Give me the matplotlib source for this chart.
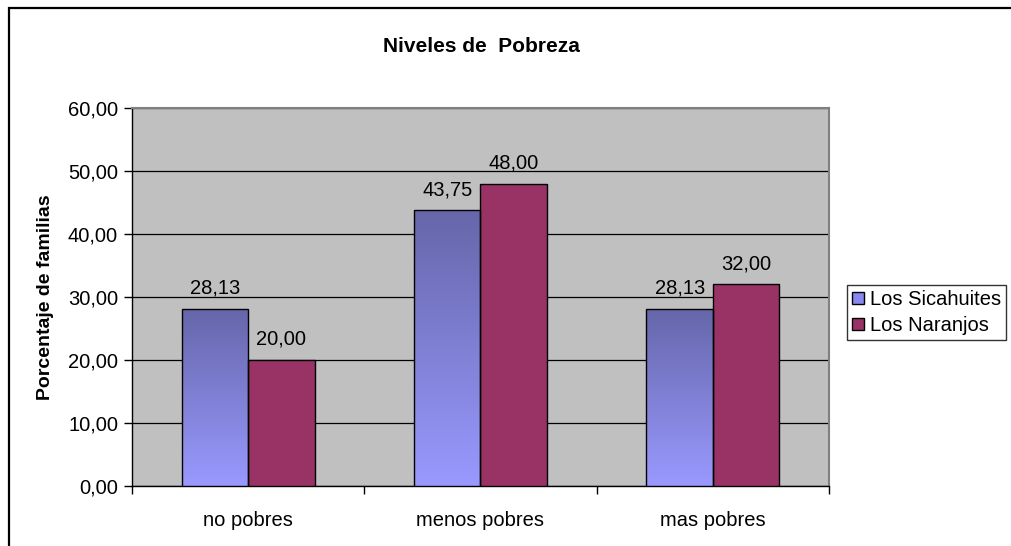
import numpy as np
import matplotlib
matplotlib.use("Agg")
import matplotlib.pyplot as plt
from matplotlib.patches import Rectangle, Patch
from matplotlib.colors import LinearSegmentedColormap

plt.rcParams['font.family'] = ['Liberation Sans', 'DejaVu Sans']

categories = ["no pobres", "menos pobres", "mas pobres"]
series_names = ["Los Sicahuites", "Los Naranjos"]
sicahuites = [28.13, 43.75, 28.13]
naranjos = [20.00, 48.00, 32.00]
y_ticks = [0, 10, 20, 30, 40, 50, 60]

W, H = 1012, 546
FS = 14.5
fig = plt.figure(figsize=(W / 100, H / 100), dpi=100)
fig.patch.set_facecolor("white")

# outer chart border (cropped at right / bottom like the original)
fig.patches.append(Rectangle((9 / W, -0.2), 1.2, 1.2 - 8 / H,
                             transform=fig.transFigure, fill=False,
                             edgecolor="black", linewidth=1.6))

ax = fig.add_axes([132 / W, 60 / H, 697 / W, 378 / H])
ax.set_facecolor("#C0C0C0")

x = np.arange(len(categories))
bw = 1 / 3.5

# gradient for the first series
blue_cmap = LinearSegmentedColormap.from_list("blu", ["#9999FF", "#6666AA"])
grad = np.linspace(0, 1, 256).reshape(-1, 1)

bars1 = ax.bar(x - bw / 2, sicahuites, bw, color="#8080DD", edgecolor="black",
               linewidth=1.0, zorder=3, label=series_names[0])
for b in bars1:
    bx, by = b.get_x(), b.get_y()
    im = ax.imshow(grad, cmap=blue_cmap, origin="lower", aspect="auto",
                   extent=[bx, bx + b.get_width(), by, by + b.get_height()],
                   zorder=3)
    im.set_clip_path(b)
    b.set_facecolor("none")
    b.set_zorder(4)

bars2 = ax.bar(x + bw / 2, naranjos, bw, color="#993366", edgecolor="black",
               linewidth=1.0, zorder=3, label=series_names[1])

for b, v in zip(list(bars1) + list(bars2), sicahuites + naranjos):
    ax.annotate(f"{v:.2f}".replace(".", ","),
                (b.get_x() + b.get_width() / 2, v),
                xytext=(0, 8), textcoords="offset points",
                ha="center", va="bottom", fontsize=FS)

ax.set_xlim(-0.5, len(categories) - 0.5)
ax.set_ylim(0, 60)
ax.set_yticks(y_ticks)
ax.set_yticklabels([f"{t:.2f}".replace(".", ",") for t in y_ticks], fontsize=FS)
ax.yaxis.grid(True, color="black", linewidth=0.9, zorder=1)
ax.set_axisbelow(True)

ax.set_xticks(x)
ax.set_xticklabels(categories, fontsize=FS)
ax.set_xticks(np.arange(-0.5, len(categories)), minor=True)
ax.tick_params(axis="x", which="major", length=0, pad=18)
ax.tick_params(axis="x", which="minor", length=6, width=1, direction="out")
ax.tick_params(axis="y", length=6, width=1, direction="out", pad=4)

for side in ["top", "right"]:
    ax.spines[side].set_color("#808080")
    ax.spines[side].set_linewidth(1.5)
for side in ["left", "bottom"]:
    ax.spines[side].set_color("black")
    ax.spines[side].set_linewidth(1.0)

ax.set_ylabel("Porcentaje de familias", fontsize=14, fontweight="bold", labelpad=10)
fig.text(481 / W, 1 - 46 / H, "Niveles de  Pobreza", ha="center", va="center",
         fontsize=15, fontweight="bold")

handles = [Patch(facecolor="#8888EE", edgecolor="black"),
           Patch(facecolor="#993366", edgecolor="black")]
leg = fig.legend(handles, series_names, loc="upper left",
                 bbox_to_anchor=(847 / W, 1 - 285 / H), fontsize=FS,
                 frameon=True, fancybox=False, borderpad=0.25,
                 handlelength=0.6, handleheight=0.6, handletextpad=0.3,
                 labelspacing=0.35, borderaxespad=0)
leg.get_frame().set_edgecolor("black")
leg.get_frame().set_linewidth(1.0)

fig.savefig("out.png", dpi=100)
